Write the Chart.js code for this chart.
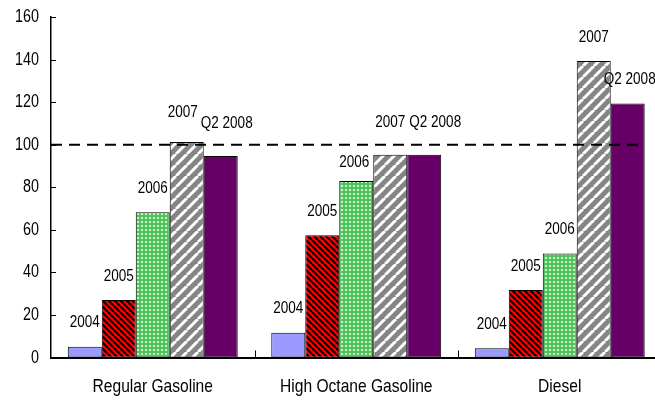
<!DOCTYPE html>
<html>
<head>
<meta charset="utf-8">
<script src="https://cdn.jsdelivr.net/npm/chart.js@4.4.1/dist/chart.umd.min.js"></script>
<style>
  html, body { margin: 0; padding: 0; background: #fff; overflow: hidden; }
  #wrap { width: 670px; height: 400px; position: relative; }
</style>
</head>
<body>
<div id="wrap"><canvas id="c"></canvas></div>
<script>
// Price index by fuel type (100 = reference level)
const categories = ['Regular Gasoline', 'High Octane Gasoline', 'Diesel'];
const seriesNames = ['2004', '2005', '2006', '2007', 'Q2 2008'];
const v2004 = [5.0, 11.6, 4.4];
const v2005 = [27.0, 57.5, 31.7];
const v2006 = [68.2, 82.9, 48.9];
const v2007 = [101.3, 95.3, 139.3];
const vQ2_2008 = [94.7, 95.3, 119.3];
const yTicks = [0, 20, 40, 60, 80, 100, 120, 140, 160];
const referenceLevel = 100;

const FONT = "'Liberation Sans', Arial, sans-serif";
const SQUEEZE = 0.82;   // condensed lettering

// ---- fill patterns ----
function tile(size, draw) {
  const cv = document.createElement('canvas');
  cv.width = size; cv.height = size;
  const g = cv.getContext('2d');
  draw(g, size);
  return g.createPattern(cv, 'repeat');
}
function stripes(bg, fg, p, w, rising) {
  return tile(p, (g, s) => {
    g.fillStyle = bg; g.fillRect(0, 0, s, s);
    g.strokeStyle = fg; g.lineWidth = w;
    for (let k = -1; k <= 1; k++) {
      g.beginPath();
      if (rising) { g.moveTo(k * s, s); g.lineTo(k * s + s, 0); }
      else { g.moveTo(k * s, 0); g.lineTo(k * s + s, s); }
      g.stroke();
    }
  });
}
const fill2004 = '#9999FF';
const fill2005 = stripes('#FF0000', '#000000', 6, 2.2, false);
const fill2006 = tile(4, (g, s) => {
  g.fillStyle = '#52C45E'; g.fillRect(0, 0, s, s);
  g.fillStyle = '#C6F6C6'; g.fillRect(1, 1, 2, 2);
});
const fill2007 = stripes('#858585', '#FFFFFF', 11, 3, true);
const fillQ2 = '#660066';

const seriesValues = [v2004, v2005, v2006, v2007, vQ2_2008];
const seriesFills = [fill2004, fill2005, fill2006, fill2007, fillQ2];

// small per-label nudges [dx, dy] keyed "category,series"
const labelNudge = {
  '0,3': [-4, -5], '0,4': [6, -9],
  '1,2': [-2, 5], '1,3': [0, -8], '1,4': [11, -8],
  '2,4': [2, 0]
};

function narrowText(ctx, text, x, y, size, align) {
  ctx.save();
  ctx.translate(x, y);
  ctx.scale(SQUEEZE, 1);
  ctx.font = size + 'px ' + FONT;
  ctx.textAlign = align;
  ctx.textBaseline = 'middle';
  ctx.fillStyle = '#000';
  ctx.fillText(text, 0, 0);
  ctx.restore();
}

const overlay = {
  id: 'overlay',
  afterDatasetsDraw(chart) {
    const { ctx, chartArea: a, scales: { x, y } } = chart;
    ctx.save();
    ctx.strokeStyle = '#000';
    ctx.lineWidth = 1;
    // inward ticks and labels on the value axis
    yTicks.forEach(v => {
      const py = Math.round(y.getPixelForValue(v)) + 0.5;
      ctx.beginPath(); ctx.moveTo(a.left, py); ctx.lineTo(a.left + 5, py); ctx.stroke();
      narrowText(ctx, String(v), a.left - 12, py, 17.5, 'right');
    });
    // inward ticks between categories, category names below
    for (let i = 1; i <= categories.length; i++) {
      const px = Math.round(a.left + (a.right - a.left) * i / categories.length) + 0.5;
      ctx.beginPath(); ctx.moveTo(px, a.bottom); ctx.lineTo(px, a.bottom - 7); ctx.stroke();
    }
    categories.forEach((name, i) => {
      narrowText(ctx, name, x.getPixelForValue(i), a.bottom + 29, 19, 'center');
    });
    // dashed reference line
    const ry = y.getPixelForValue(referenceLevel);
    const lastBar = chart.getDatasetMeta(seriesNames.length - 1).data[categories.length - 1];
    ctx.setLineDash([11, 7]);
    ctx.lineWidth = 2;
    ctx.beginPath();
    ctx.moveTo(a.left, ry);
    ctx.lineTo(lastBar.x + lastBar.width / 2 - 2, ry);
    ctx.stroke();
    ctx.setLineDash([]);
    // series names above each bar
    seriesNames.forEach((name, s) => {
      chart.getDatasetMeta(s).data.forEach((bar, c) => {
        const n = labelNudge[c + ',' + s] || [0, 0];
        narrowText(ctx, name, bar.x + n[0], bar.y - 24 + n[1], 16.5, 'center');
      });
    });
    ctx.restore();
  }
};

new Chart(document.getElementById('c'), {
  type: 'bar',
  data: {
    labels: categories,
    datasets: seriesNames.map((name, s) => ({
      label: name,
      data: seriesValues[s],
      backgroundColor: seriesFills[s],
      borderColor: '#000',
      borderWidth: 1,
      borderSkipped: false,
      categoryPercentage: 0.835,
      barPercentage: 1.0
    }))
  },
  options: {
    responsive: true,
    maintainAspectRatio: false,
    animation: false,
    devicePixelRatio: 1,
    layout: { padding: { top: 17, right: 8.5, left: 0, bottom: 0 } },
    plugins: { legend: { display: false }, tooltip: { enabled: false } },
    scales: {
      x: {
        grid: { display: false, drawTicks: false },
        border: { display: true, color: '#000', width: 2 },
        ticks: { display: false },
        afterFit(scale) { scale.height = 42.5; }
      },
      y: {
        min: 0, max: 160,
        grid: { display: false, drawTicks: false },
        border: { display: true, color: '#000', width: 1.5 },
        ticks: { display: false, stepSize: 20 },
        afterFit(scale) { scale.width = 51; }
      }
    }
  },
  plugins: [overlay]
});
</script>
</body>
</html>
